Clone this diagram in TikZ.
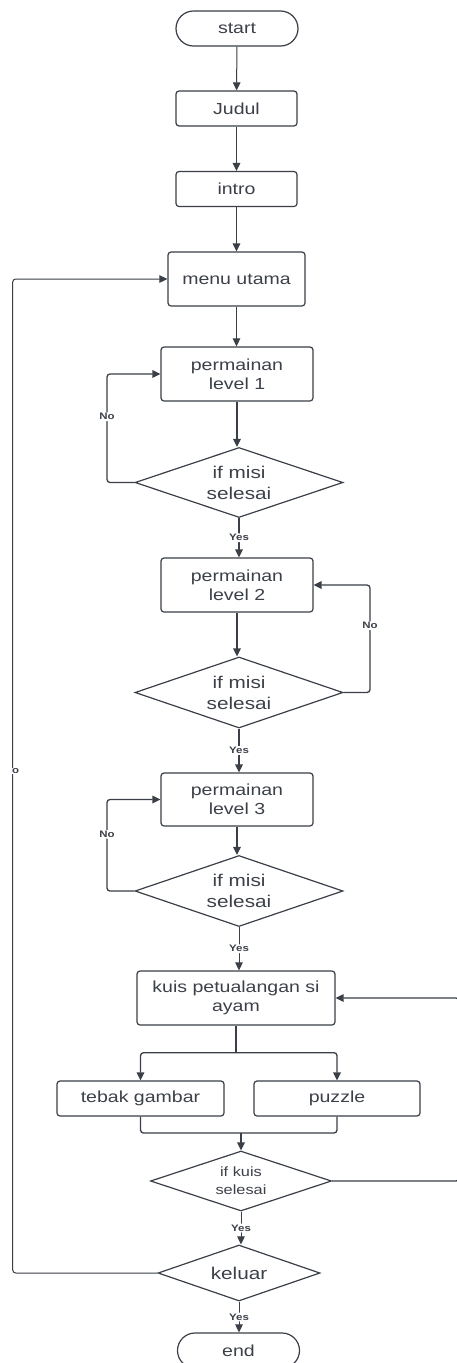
\documentclass[tikz,border=0pt]{standalone}
\usepackage{fontspec}
\setmainfont{Liberation Sans}[FakeStretch=1.22]
\usetikzlibrary{shapes.geometric,shapes.misc,arrows.meta}
\definecolor{ln}{HTML}{3A3F48}
\definecolor{tx}{HTML}{3C4048}
\tikzset{
  base/.style={draw=ln, line width=1.2pt, text=tx, inner sep=0pt, align=center,
    font=\fontsize{16}{19.3}\selectfont},
  term/.style={base, rounded rectangle, minimum width=122pt, minimum height=35pt},
  proc/.style={base, rectangle, rounded corners=3pt},
  dia/.style={base, diamond, aspect=3, font=\fontsize{17}{21}\selectfont},
  arr/.style={draw=ln, line width=1.3pt, rounded corners=3pt, -{Triangle[length=8pt,width=7.5pt]}},
  ln/.style={draw=ln, line width=1.3pt, rounded corners=3pt},
  lab/.style={fill=white, text=tx, inner sep=1pt, font=\fontsize{9.4}{10}\selectfont\bfseries}
}
\begin{document}
\begin{tikzpicture}[x=1pt,y=-1pt]
\useasboundingbox (0,0) rectangle (457,1363);
\fill[white] (0,0) rectangle (457,1363);
% nodes
\node[term] (start) at (237,28.5) {start};
\node[proc, minimum width=121pt, minimum height=35pt] (judul) at (236.5,108.5) {Judul};
\node[proc, minimum width=121pt, minimum height=35pt] (intro) at (236.5,189) {intro};
\node[proc, minimum width=137pt, minimum height=54pt] (menu) at (236.5,279) {menu utama};
\node[proc, minimum width=152pt, minimum height=54pt] (lv1) at (237,374) {permainan\\level 1};
\node[dia, minimum width=208pt, minimum height=70pt] (d1) at (239,482.5) {if misi\\selesai};
\node[proc, minimum width=152pt, minimum height=54pt] (lv2) at (237,585) {permainan\\level 2};
\node[dia, minimum width=208pt, minimum height=71pt] (d2) at (239,692.5) {if misi\\selesai};
\node[proc, minimum width=152pt, minimum height=53pt] (lv3) at (237,799.5) {permainan\\level 3};
\node[dia, minimum width=208pt, minimum height=71pt] (d3) at (239,891) {if misi\\selesai};
\node[proc, minimum width=198pt, minimum height=54pt] (kuis) at (236,998) {kuis petualangan si\\ayam};
\node[proc, minimum width=167pt, minimum height=35pt] (tebak) at (140.5,1098.5) {tebak gambar};
\node[proc, minimum width=166pt, minimum height=35pt] (puzzle) at (337,1098.5) {puzzle};
\node[dia, minimum width=181pt, minimum height=60pt, font=\fontsize{13.4}{17.7}\selectfont] (dk) at (241,1181) {if kuis\\selesai};
\node[dia, minimum width=162pt, minimum height=56pt] (keluar) at (239,1273) {keluar};
\node[term] (end) at (238.5,1350.5) {end};
% helper coordinates
\coordinate (n1) at (107,482.5);
\coordinate (n2) at (370,692.5);
\coordinate (n3) at (107,891);
\coordinate (split) at (236,1052.7);
\coordinate (merge) at (241,1133);
\coordinate (r1) at (459,1181);
\coordinate (l1) at (12.7,1273);
% connectors
\draw[arr, line width=1pt] (start) -- (judul);
\draw[arr] (judul) -- (intro);
\draw[arr] (intro) -- (intro.south |- menu.north);
\draw[arr, line width=1pt] (menu) -- (menu.south |- lv1.north);
\draw[arr] (lv1) -- (lv1.south |- d1.north);
\draw[arr] (d1.west) -- (n1) |- (lv1.west) node[lab, pos=0.303] {No};
\draw[arr] (d1.south) -- (d1.south |- lv2.north) node[lab, midway] {Yes};
\draw[arr] (lv2) -- (lv2.south |- d2.north);
\draw[arr] (d2.east) -- (n2) |- (lv2.east) node[lab, pos=0.311] {No};
\draw[arr] (d2.south) -- (d2.south |- lv3.north) node[lab, midway] {Yes};
\draw[arr] (lv3) -- (lv3.south |- d3.north);
\draw[arr] (d3.west) -- (n3) |- (lv3.west) node[lab, pos=0.31] {No};
\draw[arr, line width=1pt] (d3.south) -- (d3.south |- kuis.north) node[lab, midway] {Yes};
\draw[ln] (kuis.south -| split) -- (split);
\draw[arr] (split) -| (tebak.north);
\draw[arr] (split) -| (puzzle.north);
\draw[ln] (tebak.south) |- (merge);
\draw[ln] (puzzle.south) |- (merge);
\draw[arr] (merge) -- (dk.north);
\draw[arr] (dk.east) -- (r1) |- (kuis.east);
\draw[arr, line width=1pt] (dk.south) -- (dk.south |- keluar.north) node[lab, midway] {Yes};
\draw[arr, line width=1pt] (keluar.west) -- (l1) |- (menu.west) node[lab, pos=0.2525, xshift=3pt] {o};
\draw[arr, line width=1pt] (keluar.south) -- (keluar.south |- end.north) node[lab, midway] {Yes};
\end{tikzpicture}
\end{document}
